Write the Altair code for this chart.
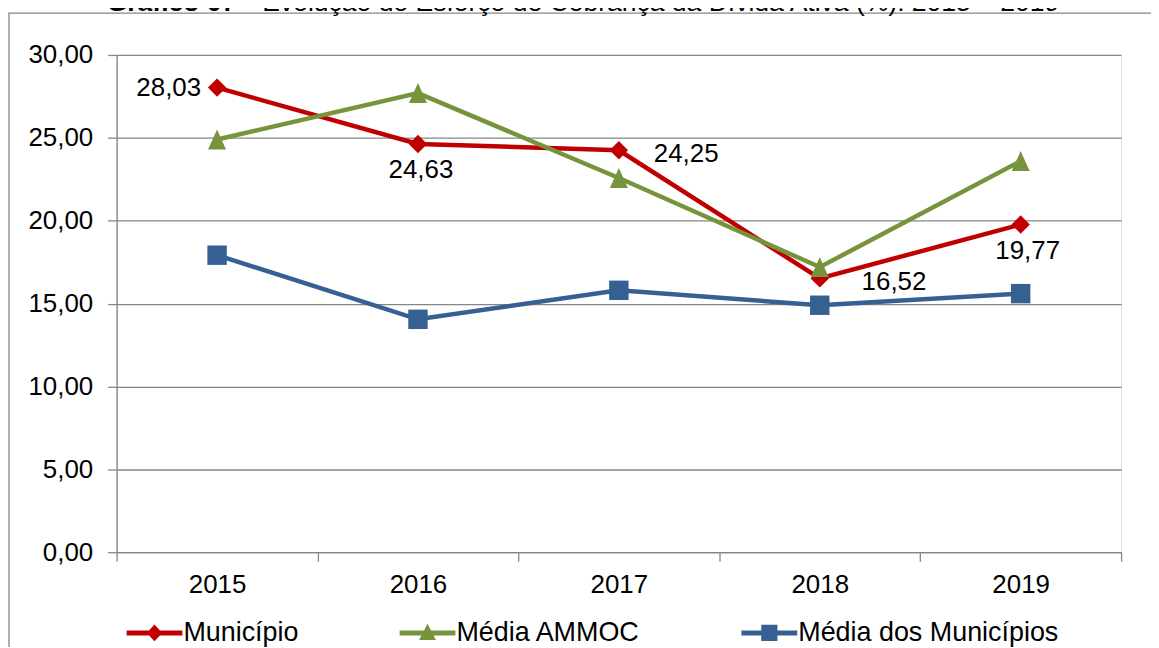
import altair as alt
import pandas as pd

FONT = "Liberation Sans"

years = ["2015", "2016", "2017", "2018", "2019"]
series_names = ["Município", "Média AMMOC", "Média dos Municípios"]
municipio = [28.03, 24.63, 24.25, 16.52, 19.77]
media_ammoc = [24.90, 27.70, 22.58, 17.20, 23.60]
media_municipios = [17.92, 14.05, 15.80, 14.90, 15.60]
y_ticks = [0, 5, 10, 15, 20, 25, 30]
title_bold = "Gráfico 07"
title_rest = "– Evolução do Esforço de Cobrança da Dívida Ativa (%): 2015 – 2019"

colors = ["#C00000", "#77933C", "#376092"]
marker_shapes = ["diamond", "M0,-1L0.9,1L-0.9,1Z", "square"]
marker_sizes = [340, 400, 380]
legend_paths = [
    "M-1,-0.09L1,-0.09L1,0.09L-1,0.09Z M0,-0.3L0.28,0L0,0.3L-0.28,0Z",
    "M-1,-0.09L1,-0.09L1,0.09L-1,0.09Z M0,-0.33L0.3,0.25L-0.3,0.25Z",
    "M-1,-0.09L1,-0.09L1,0.09L-1,0.09Z M-0.29,-0.29L0.29,-0.29L0.29,0.29L-0.29,0.29Z",
]
# label placement for the "Município" values (align, dx, dy)
label_place = [("right", -16, 0), ("center", 3, 26), ("left", 35, 4), ("left", 42, 4), ("center", 7, 27)]

rows = []
for s, vals in zip(series_names, [municipio, media_ammoc, media_municipios]):
    for yr, v in zip(years, vals):
        rows.append({"ano": yr, "serie": s, "valor": v})
df = pd.DataFrame(rows)

GRID = "#868686"

x_enc = alt.X(
    "ano:O",
    scale=alt.Scale(type="band", domain=years, paddingInner=0, paddingOuter=0),
    axis=alt.Axis(
        title=None, labelAngle=0, tickBand="extent", grid=False,
        domainColor=GRID, domainWidth=1.3, tickColor=GRID, tickWidth=1.3, tickSize=9,
        labelFontSize=26, labelFont=FONT, labelColor="black", labelPadding=10,
    ),
)
y_enc = alt.Y(
    "valor:Q",
    scale=alt.Scale(domain=[0, 30], nice=False, zero=True),
    axis=alt.Axis(
        title=None, values=y_ticks,
        labelExpr="replace(format(datum.value, '.2f'), '.', ',')",
        grid=True, gridColor=GRID, gridWidth=1.3,
        domainColor=GRID, domainWidth=1.3, tickColor=GRID, tickWidth=1.3, tickSize=9,
        labelFontSize=26, labelFont=FONT, labelColor="black", labelPadding=15,
    ),
)

one = alt.Data(values=[{"k": 1}])

layers = []

# outer frame
layers.append(
    alt.Chart(one).mark_rect(fillOpacity=0, stroke=GRID, strokeWidth=1.3).encode(
        x=alt.value(-108), x2=alt.value(1080), y=alt.value(-42), y2=alt.value(640)
    )
)
# title (cut off at top as in the reference)
layers.append(
    alt.Chart(one).mark_text(align="left", baseline="alphabetic", fontSize=26.6,
                             fontWeight="bold", font=FONT, color="black").encode(
        x=alt.value(-10), y=alt.value(-44), text=alt.value(title_bold)
    )
)
layers.append(
    alt.Chart(one).mark_text(align="left", baseline="alphabetic", fontSize=26.6,
                             font=FONT, color="black").encode(
        x=alt.value(124), y=alt.value(-44), text=alt.value(title_rest)
    )
)

base = alt.Chart(df)
for s, c, shp, sz in zip(series_names, colors, marker_shapes, marker_sizes):
    layers.append(
        base.transform_filter(alt.datum.serie == s)
        .mark_line(color=c, strokeWidth=4.5)
        .encode(x=x_enc, y=y_enc)
    )
    layers.append(
        base.transform_filter(alt.datum.serie == s)
        .mark_point(filled=True, shape=shp, size=sz, color=c, opacity=1, strokeWidth=0)
        .encode(x=x_enc, y=y_enc)
    )

for yr, (al, dx, dy) in zip(years, label_place):
    layers.append(
        base.transform_filter((alt.datum.serie == series_names[0]) & (alt.datum.ano == yr))
        .transform_calculate(lbl="replace(format(datum.valor, '.2f'), '.', ',')")
        .mark_text(align=al, baseline="middle", dx=dx, dy=dy, fontSize=26, font=FONT, color="black")
        .encode(x=x_enc, y=y_enc, text="lbl:N")
    )

leg = alt.Legend(
    title=None, orient="none", legendX=10, legendY=552, direction="horizontal",
    symbolSize=3136, symbolStrokeWidth=0, symbolOpacity=1,
    labelFontSize=27, labelFont=FONT, labelColor="black", labelOffset=1,
    labelLimit=500, columnPadding=101, padding=0,
)
layers.append(
    base.transform_filter("false")
    .mark_point(filled=True, opacity=1)
    .encode(
        x=x_enc, y=y_enc,
        color=alt.Color("serie:N", scale=alt.Scale(domain=series_names, range=colors), legend=leg),
        shape=alt.Shape("serie:N", scale=alt.Scale(domain=series_names, range=legend_paths), legend=leg),
    )
)

chart = (
    alt.layer(*layers)
    .properties(
        width=1008, height=499,
        autosize=alt.AutoSizeParams(type="none"),
        padding={"left": 109, "top": 46, "right": 30, "bottom": 94},
        background="white",
    )
    .configure_view(fill="#EEECE1", strokeWidth=0)
    .configure(font=FONT)
)

chart.save("out.html", embed_options={"renderer": "svg", "actions": False})
